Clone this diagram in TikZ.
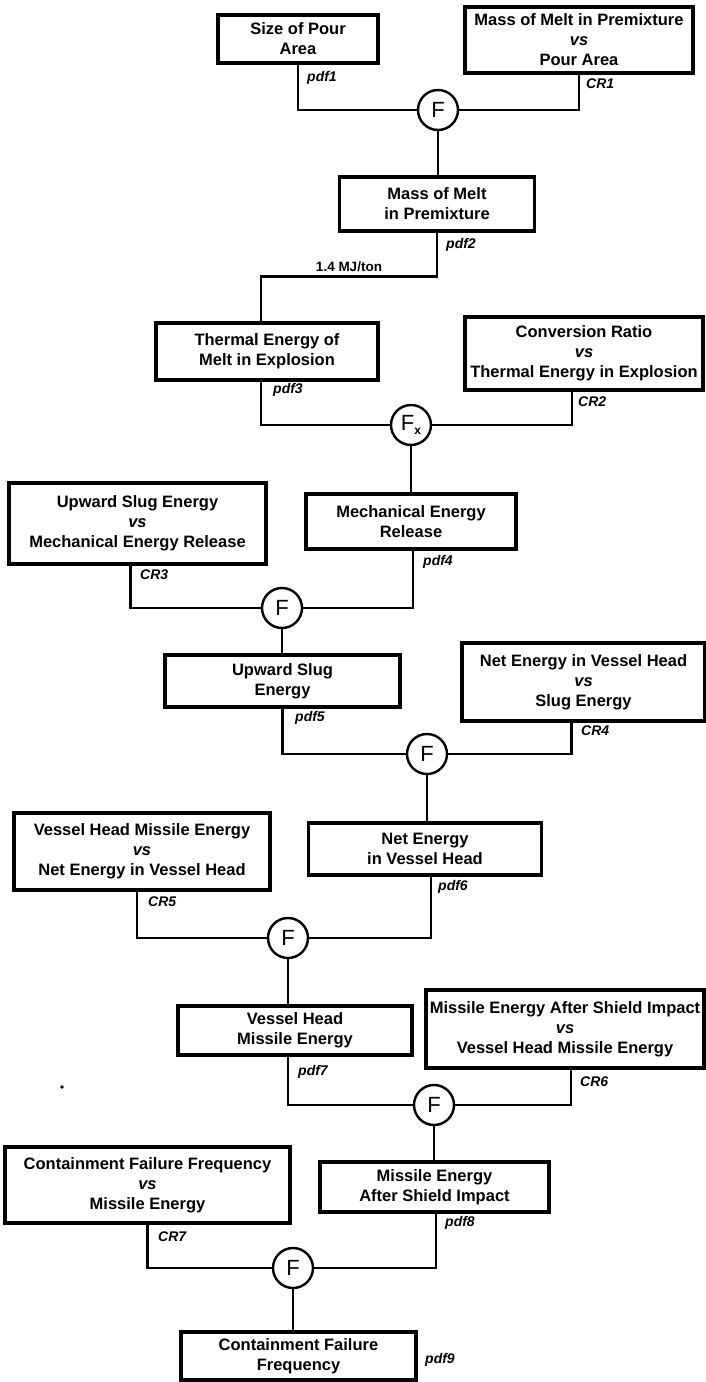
\documentclass[tikz,border=0pt]{standalone}
\usepackage{fontspec}
\setmainfont{Liberation Sans}
\newcommand{\vsx}{{\itshape vs}}
\begin{document}
\begin{tikzpicture}[x=1pt,y=-1pt,
  box/.style={draw, line width=3.2pt, align=center, inner sep=0pt,
    font=\fontsize{16.5}{20}\selectfont\bfseries},
  fn/.style={draw, circle, line width=2.4pt, minimum size=40pt, inner sep=0pt,
    font=\fontsize{22}{22}\selectfont},
  conn/.style={line width=2.4pt},
  lab/.style={anchor=west, inner sep=0pt,
    font=\fontsize{14}{14}\selectfont\bfseries\itshape}]
\useasboundingbox (0,0) rectangle (706,1382);

% boxes
\node[box, minimum width=160pt, minimum height=48pt] (b1) at (298,39) {Size of Pour\\Area};
\node[box, minimum width=228pt, minimum height=66pt] (b2) at (579,40) {Mass of Melt in Premixture\\\vsx\\Pour Area};
\node[box, minimum width=195pt, minimum height=54pt] (b3) at (437,204) {Mass of Melt\\in Premixture};
\node[box, minimum width=222pt, minimum height=57pt] (b4) at (267,351.5) {Thermal Energy of\\Melt in Explosion};
\node[box, minimum width=238pt, minimum height=73pt] (b5) at (584,353.5) {Conversion Ratio\\\vsx\\Thermal Energy in Explosion};
\node[box, minimum width=210pt, minimum height=55pt] (b6) at (411,521.5) {Mechanical Energy\\Release};
\node[box, minimum width=257pt, minimum height=81pt] (b7) at (137.5,523.5) {Upward Slug Energy\\\vsx\\Mechanical Energy Release};
\node[box, minimum width=235pt, minimum height=52pt] (b8) at (282.5,681) {Upward Slug\\Energy};
\node[box, minimum width=243pt, minimum height=78pt] (b10) at (583.5,682) {Net Energy in Vessel Head\\\vsx\\Slug Energy};
\node[box, minimum width=256pt, minimum height=77pt] (b9) at (142,851.5) {Vessel Head Missile Energy\\\vsx\\Net Energy in Vessel Head};
\node[box, minimum width=233pt, minimum height=52pt] (b11) at (425,849) {Net Energy\\in Vessel Head};
\node[box, minimum width=234pt, minimum height=49pt] (b12) at (295,1030.5) {Vessel Head\\Missile Energy};
\node[box, minimum width=278pt, minimum height=78pt] (b15) at (565,1029) {Missile Energy After Shield Impact\\\vsx\\Vessel Head Missile Energy};
\node[box, minimum width=229pt, minimum height=50pt] (b16) at (434.5,1187) {Missile Energy\\After Shield Impact};
\node[box, minimum width=285pt, minimum height=76pt] (b13) at (147.5,1185) {Containment Failure Frequency\\\vsx\\Missile Energy};
\node[box, minimum width=235pt, minimum height=48pt] (b14) at (298.5,1356) {Containment Failure\\Frequency};

% function circles
\node[fn] (f1) at (438,110) {F};
\node[fn] (fx) at (411,425) {F\raisebox{-0.35ex}{\fontsize{12}{12}\selectfont\bfseries x}};
\node[fn] (f3) at (282,608) {F};
\node[fn] (f4) at (427,754) {F};
\node[fn] (f5) at (288,938) {F};
\node[fn] (f6) at (434,1105) {F};
\node[fn] (f7) at (293,1268) {F};

% connectors
\draw[conn] (b1.south) |- (f1.west);
\draw[conn] (b2.south) |- (f1.east);
\draw[conn] (f1.south) -- (f1 |- b3.north);
\draw[conn] (b3.south) -- ++(0,44) coordinate (mj) -| ([xshift=-6pt]b4.north);
\draw[conn] ([xshift=-6pt]b4.south) |- (fx.west);
\draw[conn] ([xshift=-12pt]b5.south) |- (fx.east);
\draw[conn] (fx.south) -- (fx |- b6.north);
\draw[conn] ([xshift=-7pt]b7.south) |- (f3.west);
\draw[conn] ([xshift=2pt]b6.south) |- (f3.east);
\draw[conn] (f3.south) -- (f3 |- b8.north);
\draw[conn] (b8.south) |- (f4.west);
\draw[conn] ([xshift=-12pt]b10.south) |- (f4.east);
\draw[conn] (f4.south) -- (f4 |- b11.north);
\draw[conn] ([xshift=-5pt]b9.south) |- (f5.west);
\draw[conn] ([xshift=6pt]b11.south) |- (f5.east);
\draw[conn] (f5.south) -- (f5 |- b12.north);
\draw[conn] ([xshift=-7pt]b12.south) |- (f6.west);
\draw[conn] ([xshift=6pt]b15.south) |- (f6.east);
\draw[conn] (f6.south) -- (f6 |- b16.north);
\draw[conn] (b13.south) |- (f7.west);
\draw[conn] ([xshift=1.5pt]b16.south) |- (f7.east);
\draw[conn] (f7.south) -- (f7 |- b14.north);

% labels
\node[font=\fontsize{13.5}{13.5}\selectfont\bfseries, anchor=south, inner sep=0pt] (mjl) at (349,272) {1.4 MJ/ton};
\node[lab] (l1) at (307,78) {pdf1};
\node[lab] (l2) at (586,84) {CR1};
\node[lab] (l3) at (446,245) {pdf2};
\node[lab] (l4) at (273,390) {pdf3};
\node[lab] (l5) at (578,402) {CR2};
\node[lab] (l6) at (140,575) {CR3};
\node[lab] (l7) at (423,562) {pdf4};
\node[lab] (l8) at (295,718) {pdf5};
\node[lab] (l9) at (581,731) {CR4};
\node[lab] (l10) at (148,902) {CR5};
\node[lab] (l11) at (438,887) {pdf6};
\node[lab] (l12) at (298,1072) {pdf7};
\node[lab] (l13) at (580,1082) {CR6};
\node[lab] (l14) at (445,1223) {pdf8};
\node[lab] (l15) at (158,1237) {CR7};
\node[lab] (l16) at (425,1360) {pdf9};

% stray dot
\fill (62,1087) circle (1.8pt);
\end{tikzpicture}
\end{document}
